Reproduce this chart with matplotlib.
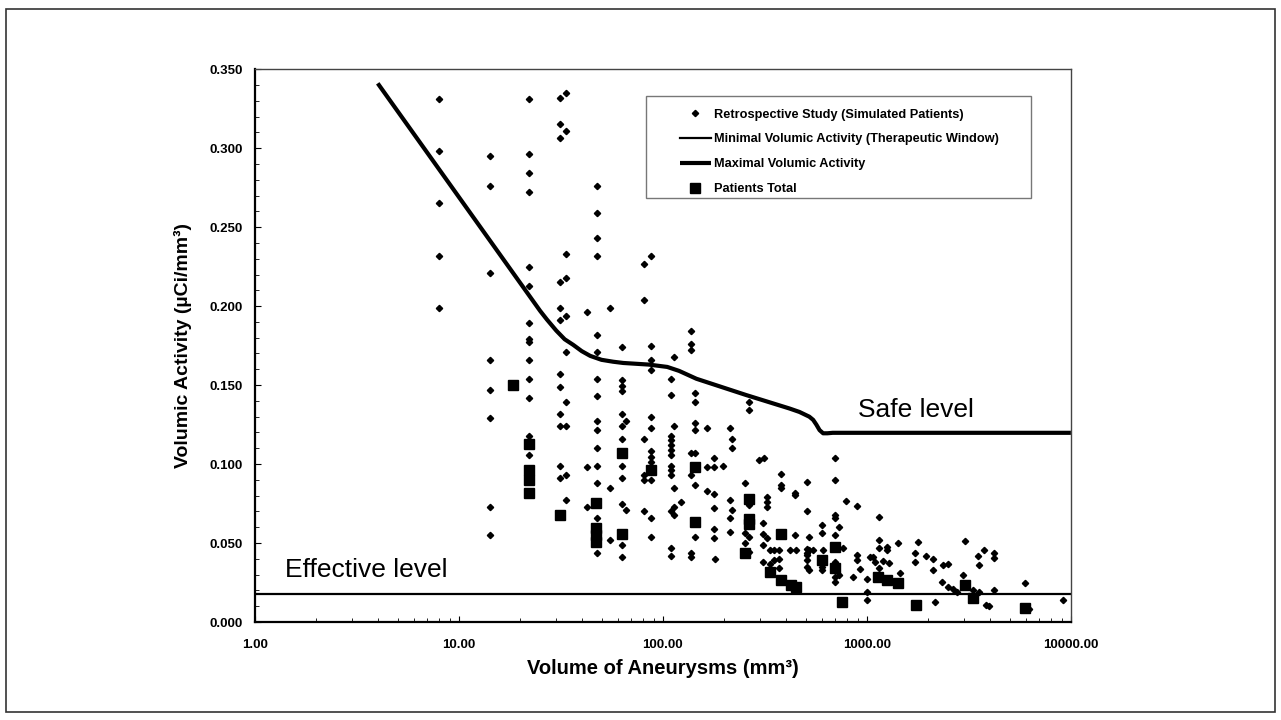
import numpy as np
import matplotlib
matplotlib.use("Agg")
import matplotlib.pyplot as plt
from matplotlib.patches import Rectangle
from matplotlib.ticker import FixedLocator, MultipleLocator, LogLocator, NullFormatter

plt.rcParams["font.family"] = ["Liberation Sans", "DejaVu Sans"]

# retrospective study (simulated patients): volume column -> activities
sim_cols = {
    8: [0.331, 0.298, 0.265, 0.232, 0.199],
    14.2: [0.295, 0.276, 0.221, 0.166, 0.147, 0.129, 0.073, 0.055],
    22: [0.331, 0.296, 0.284, 0.272, 0.225, 0.213, 0.189, 0.179, 0.177, 0.166, 0.154, 0.142, 0.118, 0.106],
    31.2: [0.3315, 0.315, 0.3066, 0.2154, 0.199, 0.191, 0.157, 0.149, 0.132, 0.124, 0.099, 0.091],
    33.6: [0.3346, 0.311, 0.233, 0.2175, 0.194, 0.171, 0.1395, 0.124, 0.093, 0.077],
    42.6: [0.1964, 0.098, 0.073],
    47.3: [0.276, 0.259, 0.243, 0.232, 0.182, 0.171, 0.154, 0.143, 0.127, 0.1215, 0.110, 0.099, 0.088, 0.066, 0.044],
    55: [0.1985, 0.085, 0.052],
    63: [0.174, 0.153, 0.1496, 0.146, 0.132, 0.124, 0.116, 0.099, 0.091, 0.0745, 0.049, 0.041],
    66: [0.127, 0.071],
    81: [0.2264, 0.2038, 0.116, 0.093, 0.090, 0.0705],
    87: [0.232, 0.175, 0.166, 0.1595, 0.1296, 0.123, 0.108, 0.1046, 0.1015, 0.090, 0.066, 0.054],
    110: [0.154, 0.144, 0.118, 0.115, 0.112, 0.109, 0.106, 0.099, 0.096, 0.093, 0.070, 0.047, 0.042],
    113: [0.168, 0.124, 0.085, 0.073, 0.068],
    123: [0.076],
    137: [0.184, 0.176, 0.172, 0.107, 0.093, 0.0435, 0.041],
    143.5: [0.145, 0.1395, 0.126, 0.1215, 0.107, 0.087, 0.054],
    165: [0.123, 0.098, 0.083],
    177: [0.104, 0.098, 0.081, 0.072, 0.059, 0.053],
    180: [0.040],
    197: [0.099],
    213: [0.123, 0.077, 0.066, 0.057],
    219: [0.116, 0.110, 0.071],
    252: [0.088, 0.0565, 0.050],
    265: [0.1395, 0.134, 0.074, 0.054, 0.0445],
    297: [0.1025],
    314: [0.1036],
    310: [0.0625, 0.056, 0.049, 0.038],
    322: [0.079, 0.076, 0.073, 0.053],
    335: [0.0456, 0.037],
    350: [0.0456, 0.039],
    372: [0.0456, 0.040, 0.034],
    378: [0.0937, 0.0867, 0.0846],
    418: [0.0456],
    444: [0.0818, 0.0804, 0.055],
    450: [0.0456],
    506: [0.0884, 0.0703, 0.046, 0.0435, 0.0424, 0.0392, 0.035],
    522: [0.054, 0.0456, 0.033],
    545: [0.0456],
    600: [0.0614, 0.0561, 0.035, 0.033],
    611: [0.0456],
    697: [0.1036, 0.0899, 0.0677, 0.0656, 0.0551, 0.0382, 0.0287, 0.0255],
    732: [0.0603, 0.0297],
    764: [0.0467],
    789: [0.0768],
    850: [0.0283],
    890: [0.0736, 0.0424, 0.0392],
    920: [0.0333],
    1000: [0.027, 0.0192, 0.0139],
    1040: [0.0413],
    1070: [0.0413],
    1100: [0.0382],
    1150: [0.0667, 0.0519, 0.0467, 0.034],
    1195: [0.0388],
    1260: [0.0477, 0.0456],
    1280: [0.0375],
    1420: [0.0502],
    1450: [0.0308],
    1720: [0.0439, 0.0382],
    1770: [0.0508],
    1945: [0.0418],
    2100: [0.0397, 0.0329],
    2150: [0.0129],
    2340: [0.0255],
    2360: [0.0361],
    2490: [0.0365, 0.0224],
    2640: [0.0207],
    2750: [0.0192],
    2950: [0.0297],
    3020: [0.0515],
    3300: [0.0203],
    3500: [0.0418],
    3550: [0.0192, 0.0361],
    3740: [0.0456],
    3850: [0.0108],
    3960: [0.0101],
    4200: [0.0435, 0.0403, 0.0203],
    5950: [0.0245],
    6200: [0.008],
    9170: [0.0139],
}

# patients total
pat_x = [18.5, 22, 22, 22, 22, 31.4, 47, 47, 47, 47, 63.2, 63, 87, 143.5, 143.5,
         252, 265, 265, 265, 335, 378, 380, 425, 450, 600, 697, 697, 753,
         1135, 1250, 1420, 1750, 3020, 3300, 5950]
pat_y = [0.150, 0.1125, 0.096, 0.090, 0.0815, 0.068, 0.0755, 0.0595, 0.055, 0.051, 0.107, 0.056,
         0.096, 0.098, 0.0635, 0.044, 0.078, 0.065, 0.062, 0.032, 0.056, 0.0266, 0.0234, 0.0224,
         0.039, 0.0473, 0.034, 0.0129, 0.0287, 0.0266, 0.0245, 0.0108, 0.0234, 0.015, 0.0087]

# maximal volumic activity curve
max_x = [4, 25, 27, 30, 33, 36.3, 40, 44, 50, 57, 64, 85, 105, 120, 146, 256, 417, 467, 522,
         545, 565, 586, 610, 640, 680, 10000]
max_y = [0.341, 0.197, 0.1915, 0.1845, 0.179, 0.1755, 0.1715, 0.1685, 0.166, 0.1648, 0.164,
         0.163, 0.1615, 0.159, 0.154, 0.1437, 0.1352, 0.133, 0.130, 0.128, 0.125, 0.1215,
         0.1195, 0.1195, 0.1198, 0.1198]

# minimal volumic activity (therapeutic window)
min_x = [1, 10000]
min_y = [0.018, 0.018]

sim_x = [v for v, ys in sim_cols.items() for _ in ys]
sim_y = [y for ys in sim_cols.values() for y in ys]

fig = plt.figure(figsize=(12.81, 7.2), dpi=100)
fig.patches.append(Rectangle((0.005, 0.011), 0.99, 0.977, transform=fig.transFigure,
                             fill=False, edgecolor="#333333", linewidth=1.2))
ax = fig.add_axes([0.199, 0.136, 0.637, 0.768])

ax.plot(sim_x, sim_y, linestyle="none", marker="D", markersize=3.2, color="black",
        label="Retrospective Study (Simulated Patients)")
ax.plot(min_x, min_y, color="black", linewidth=1.6,
        label="Minimal Volumic Activity (Therapeutic Window)")
ax.plot(max_x, max_y, color="black", linewidth=3.0, solid_capstyle="butt",
        solid_joinstyle="round", label="Maximal Volumic Activity")
ax.plot(pat_x, pat_y, linestyle="none", marker="s", markersize=7.5, color="black",
        label="Patients Total")

ax.set_xscale("log")
ax.set_xlim(1, 10000)
ax.set_ylim(0, 0.35)

ax.xaxis.set_major_locator(FixedLocator([1, 10, 100, 1000, 10000]))
ax.xaxis.set_minor_locator(LogLocator(base=10, subs=np.arange(2, 10)))
ax.xaxis.set_minor_formatter(NullFormatter())
ax.set_xticklabels(["1.00", "10.00", "100.00", "1000.00", "10000.00"])
ax.yaxis.set_major_locator(MultipleLocator(0.05))
ax.yaxis.set_minor_locator(MultipleLocator(0.01))
ax.set_yticklabels([f"{v:.3f}" for v in ax.get_yticks()])

ax.tick_params(which="both", direction="in", labelsize=9.5)
ax.tick_params(which="major", length=4, width=0.8)
ax.tick_params(which="minor", length=3, width=0.6)
ax.tick_params(axis="y", pad=9)
ax.tick_params(axis="x", pad=12)
for lab in ax.get_xticklabels() + ax.get_yticklabels():
    lab.set_fontweight("bold")

for side in ["left", "bottom"]:
    ax.spines[side].set_linewidth(1.6)
for side in ["top", "right"]:
    ax.spines[side].set_linewidth(1.0)
    ax.spines[side].set_color("#444444")

ax.set_xlabel("Volume of Aneurysms (mm³)", fontsize=14.5, fontweight="bold", labelpad=6)
ax.set_ylabel("Volumic Activity (µCi/mm³)", fontsize=14, fontweight="bold", labelpad=12)

ax.text(1.40, 0.0285, "Effective level", fontsize=19)
ax.text(900, 0.130, "Safe level", fontsize=19)

# legend box drawn separately so its padding matches the original
ax.add_patch(Rectangle((0.479, 0.767), 0.472, 0.184, transform=ax.transAxes, fill=False,
                       edgecolor="#777777", linewidth=1.0, zorder=4))
leg = ax.legend(loc="upper left", bbox_to_anchor=(0.513, 0.940), fontsize=9.2,
                frameon=False, borderpad=0, handlelength=2.4, handletextpad=0.25,
                labelspacing=1.0)
for t in leg.get_texts():
    t.set_fontweight("bold")

fig.savefig("out.png", dpi=100)
